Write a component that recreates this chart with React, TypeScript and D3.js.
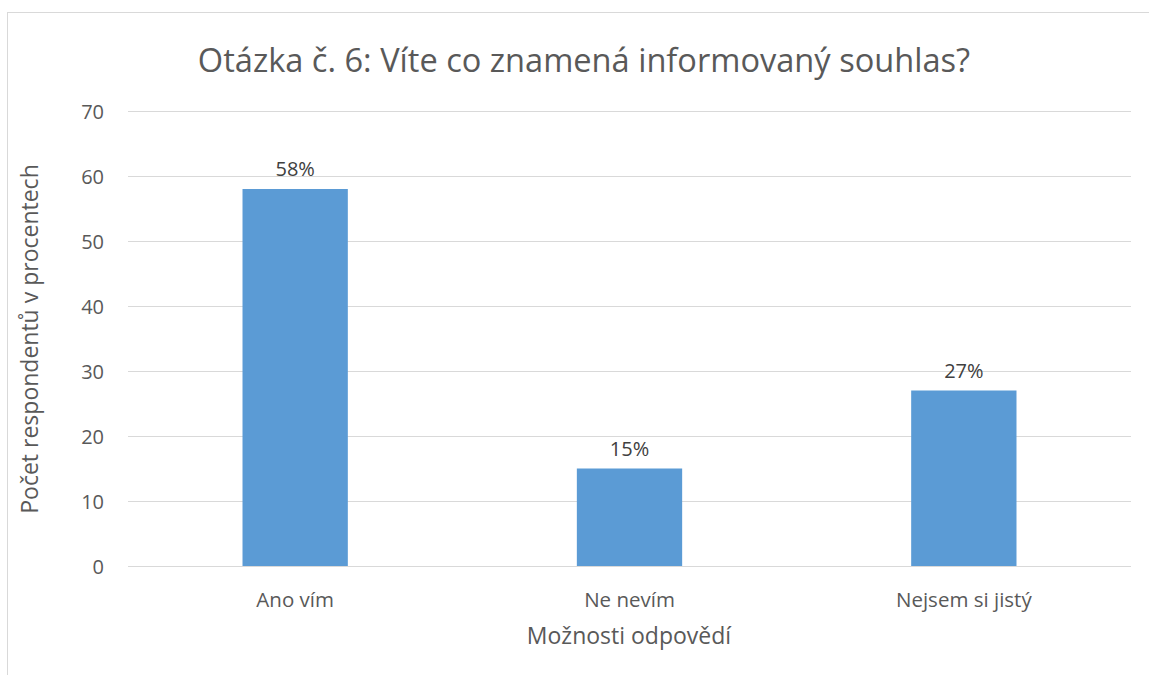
import { useEffect, useRef } from 'react'
import * as d3 from 'd3'

const categories = ['Ano vím', 'Ne nevím', 'Nejsem si jistý']
const values = [58, 15, 27]
const labels = ['58%', '15%', '27%']
const yTicks = [0, 10, 20, 30, 40, 50, 60, 70]

const FONT = '"Open Sans", "Noto Sans", sans-serif'
const TEXT = '#595959'

export default function App() {
  const svgRef = useRef<SVGSVGElement>(null)

  useEffect(() => {
    if (!svgRef.current) return
    const W = 1149, H = 675
    const svg = d3.select(svgRef.current)
    svg.selectAll('*').remove()
    svg.attr('width', W).attr('height', H)

    // chart frame
    svg.append('rect')
      .attr('x', 7.5).attr('y', 12.5).attr('width', W + 10).attr('height', H)
      .attr('fill', '#fff').attr('stroke', '#d9d9d9').attr('stroke-width', 1)

    const left = 128, right = 1131, top = 111, bottom = 566

    const x = d3.scaleBand().domain(categories).range([left, right]).padding(0)
    const y = d3.scaleLinear().domain([0, 70]).range([bottom, top])

    // title
    svg.append('text')
      .attr('x', 584).attr('y', 72)
      .attr('text-anchor', 'middle')
      .attr('fill', TEXT).attr('font-family', FONT).attr('font-size', '32.6px')
      .text('Otázka č. 6: Víte co znamená informovaný souhlas?')

    // grid
    svg.append('g').selectAll('line')
      .data(yTicks).enter().append('line')
      .attr('x1', left).attr('x2', right)
      .attr('y1', d => Math.round(y(d)) + 0.5).attr('y2', d => Math.round(y(d)) + 0.5)
      .attr('stroke', '#d9d9d9').attr('stroke-width', 1)

    // y tick labels
    svg.append('g').selectAll('text')
      .data(yTicks).enter().append('text')
      .attr('x', 104).attr('y', d => y(d))
      .attr('text-anchor', 'end').attr('dominant-baseline', 'central')
      .attr('fill', TEXT).attr('font-family', FONT).attr('font-size', '20px')
      .text(d => d)

    // bars
    const bw = x.bandwidth() * 0.315
    categories.forEach((c, i) => {
      const cx = x(c)! + x.bandwidth() / 2
      svg.append('rect')
        .attr('x', cx - bw / 2).attr('y', y(values[i]))
        .attr('width', bw).attr('height', y(0) - y(values[i]))
        .attr('fill', '#5b9bd5')

      svg.append('text')
        .attr('x', cx).attr('y', y(values[i]) - 13)
        .attr('text-anchor', 'middle')
        .attr('fill', '#404040').attr('font-family', FONT).attr('font-size', '20px')
        .text(labels[i])

      svg.append('text')
        .attr('x', cx).attr('y', 607)
        .attr('text-anchor', 'middle')
        .attr('fill', TEXT).attr('font-family', FONT).attr('font-size', '20.5px')
        .text(c)
    })

    // axis titles
    svg.append('text')
      .attr('x', 629).attr('y', 644)
      .attr('text-anchor', 'middle')
      .attr('fill', TEXT).attr('font-family', FONT).attr('font-size', '23px')
      .text('Možnosti odpovědí')

    svg.append('text')
      .attr('transform', `translate(38,339) rotate(-90)`)
      .attr('text-anchor', 'middle')
      .attr('fill', TEXT).attr('font-family', FONT).attr('font-size', '23px')
      .text('Počet respondentů v procentech')
  }, [])

  return (
    <div style={{ position: 'absolute', left: 0, top: 0 }}>
      <svg ref={svgRef} style={{ display: 'block' }} />
    </div>
  )
}
